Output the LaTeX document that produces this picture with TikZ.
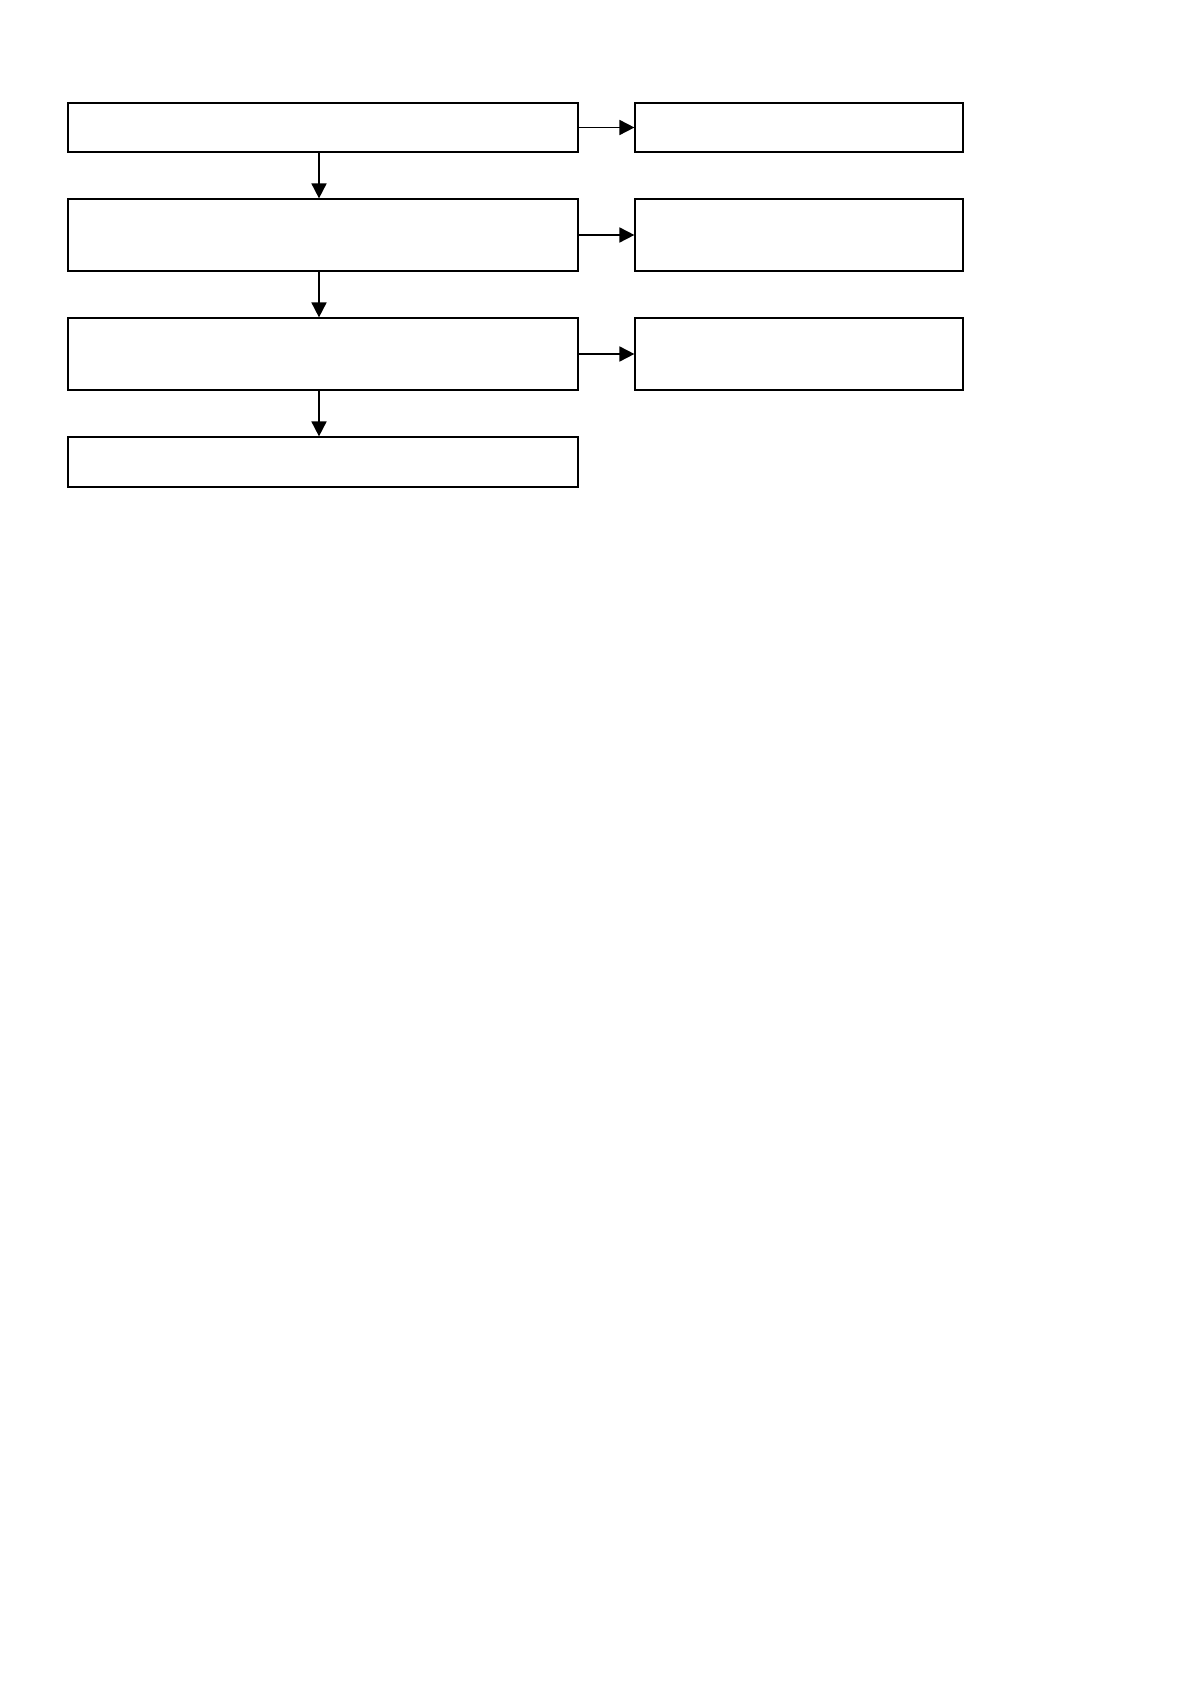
\documentclass[tikz,border=0pt]{standalone}
\usetikzlibrary{arrows.meta}
\tikzstyle{stage}=[draw, rectangle, line width=0.6pt, inner sep=0pt]
\tikzstyle{flow}=[line width=0.9pt, -{Triangle[length=7.5pt,width=7.5pt]}]

\begin{document}
\begin{tikzpicture}[x=0.5pt,y=-0.5pt]
		\useasboundingbox (0,0) rectangle (1190,1684);
		\node[stage, minimum width=255pt, minimum height=24.5pt] (S1) at (323,127.5) {};
		\node[stage, minimum width=255pt, minimum height=36pt] (S2) at (323,235) {};
		\node[stage, minimum width=255pt, minimum height=36pt] (S3) at (323,354) {};
		\node[stage, minimum width=255pt, minimum height=25pt] (S4) at (323,462) {};
		\node[stage, minimum width=164pt, minimum height=24.5pt] (R1) at (799,127.5) {};
		\node[stage, minimum width=164pt, minimum height=36pt] (R2) at (799,235) {};
		\node[stage, minimum width=164pt, minimum height=36pt] (R3) at (799,354) {};
		\draw[flow] ([xshift=-2pt]S1.south) -- ([xshift=-2pt]S2.north);
		\draw[flow] ([xshift=-2pt]S2.south) -- ([xshift=-2pt]S3.north);
		\draw[flow] ([xshift=-2pt]S3.south) -- ([xshift=-2pt]S4.north);
		\draw[flow] (S1.east) -- (R1.west);
		\draw[flow] (S2.east) -- (R2.west);
		\draw[flow] (S3.east) -- (R3.west);
\end{tikzpicture}
\end{document}
